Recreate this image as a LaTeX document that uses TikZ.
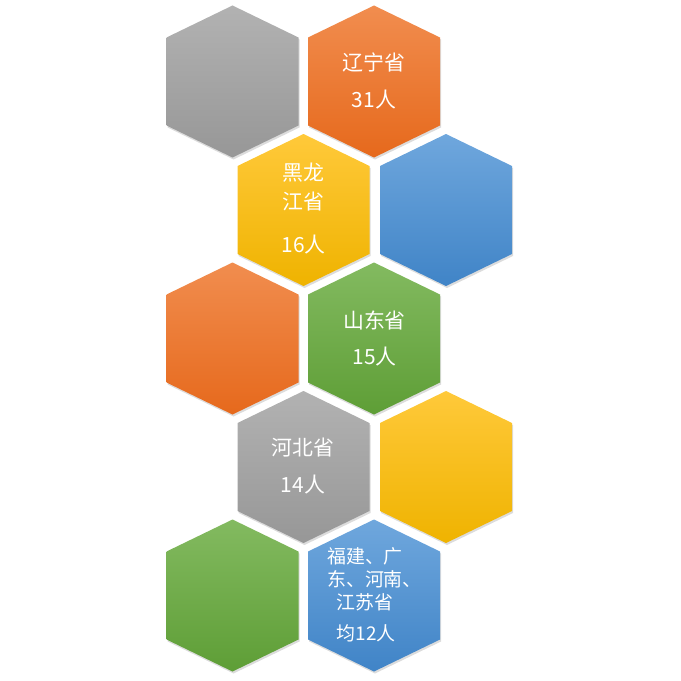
\documentclass[tikz,border=0pt]{standalone}
\usepackage{fontspec}
\newfontfamily\cjk{Noto Sans CJK SC}
\usetikzlibrary{shadows}
% 渐变色（上浅、中为原色、下深）
\definecolor{grayT}{HTML}{B2B2B2}
\definecolor{grayM}{HTML}{A5A5A5}
\definecolor{grayB}{HTML}{979797}
\definecolor{orangeT}{HTML}{F18D4F}
\definecolor{orangeM}{HTML}{ED7D31}
\definecolor{orangeB}{HTML}{E6691C}
\definecolor{yellowT}{HTML}{FFC93A}
\definecolor{yellowM}{HTML}{FFC000}
\definecolor{yellowB}{HTML}{EFB300}
\definecolor{blueT}{HTML}{6FA7DD}
\definecolor{blueM}{HTML}{5B9BD5}
\definecolor{blueB}{HTML}{4084C7}
\definecolor{greenT}{HTML}{83BA60}
\definecolor{greenM}{HTML}{70AD47}
\definecolor{greenB}{HTML}{5E9E36}
\tikzset{
  hexcell/.style={drop shadow={opacity=0.28, shadow xshift=1bp, shadow yshift=-2bp}},
  lbl/.style={text=white, inner sep=0pt, font=\cjk\fontsize{21}{25}\selectfont},
  lblsm/.style={text=white, inner sep=0pt, font=\cjk\fontsize{19}{23}\selectfont}
}
\begin{document}
\begin{tikzpicture}[x=1bp, y=-1bp]
  \useasboundingbox (0,0) rectangle (681,681);
  % --- 第一行 ---
  \path[hexcell, top color=grayT, middle color=grayM, bottom color=grayB]
    (232.5,5.5) -- ++(66,32) -- ++(0,88) -- ++(-66,32) -- ++(-66,-32) -- ++(0,-88) -- cycle;
  \path[hexcell, top color=orangeT, middle color=orangeM, bottom color=orangeB]
    (374,5.5) -- ++(66,32) -- ++(0,88) -- ++(-66,32) -- ++(-66,-32) -- ++(0,-88) -- cycle;
  \node[lbl] (liaoning) at (374,63) {辽宁省};
  \node[lbl] (liaoningN) at (374,100) {31人};
  % --- 第二行 ---
  \path[hexcell, top color=yellowT, middle color=yellowM, bottom color=yellowB]
    (303.5,134) -- ++(66,32) -- ++(0,88) -- ++(-66,32) -- ++(-66,-32) -- ++(0,-88) -- cycle;
  \path[hexcell, top color=blueT, middle color=blueM, bottom color=blueB]
    (446,134) -- ++(66,32) -- ++(0,88) -- ++(-66,32) -- ++(-66,-32) -- ++(0,-88) -- cycle;
  \node[lbl] (hlj1) at (303.5,173) {黑龙};
  \node[lbl] (hlj2) at (303.5,202) {江省};
  \node[lbl] (hljN) at (303.5,245) {16人};
  % --- 第三行 ---
  \path[hexcell, top color=orangeT, middle color=orangeM, bottom color=orangeB]
    (232.5,262.5) -- ++(66,32) -- ++(0,88) -- ++(-66,32) -- ++(-66,-32) -- ++(0,-88) -- cycle;
  \path[hexcell, top color=greenT, middle color=greenM, bottom color=greenB]
    (374,262.5) -- ++(66,32) -- ++(0,88) -- ++(-66,32) -- ++(-66,-32) -- ++(0,-88) -- cycle;
  \node[lbl] (shandong) at (374.5,320) {山东省};
  \node[lbl] (shandongN) at (374.5,357) {15人};
  % --- 第四行 ---
  \path[hexcell, top color=grayT, middle color=grayM, bottom color=grayB]
    (303.5,391) -- ++(66,32) -- ++(0,88) -- ++(-66,32) -- ++(-66,-32) -- ++(0,-88) -- cycle;
  \path[hexcell, top color=yellowT, middle color=yellowM, bottom color=yellowB]
    (446,391) -- ++(66,32) -- ++(0,88) -- ++(-66,32) -- ++(-66,-32) -- ++(0,-88) -- cycle;
  \node[lbl] (hebei) at (303,448) {河北省};
  \node[lbl] (hebeiN) at (303,485) {14人};
  % --- 第五行 ---
  \path[hexcell, top color=greenT, middle color=greenM, bottom color=greenB]
    (232.5,519.5) -- ++(66,32) -- ++(0,88) -- ++(-66,32) -- ++(-66,-32) -- ++(0,-88) -- cycle;
  \path[hexcell, top color=blueT, middle color=blueM, bottom color=blueB]
    (374,519.5) -- ++(66,32) -- ++(0,88) -- ++(-66,32) -- ++(-66,-32) -- ++(0,-88) -- cycle;
  \node[lblsm, anchor=west] (others1) at (327,556.5) {福建、广};
  \node[lblsm, anchor=west] (others2) at (327,579.5) {东、河南、};
  \node[lblsm] (others3) at (365,602.5) {江苏省};
  \node[lblsm] (othersN) at (366,633) {均12人};
\end{tikzpicture}
\end{document}
